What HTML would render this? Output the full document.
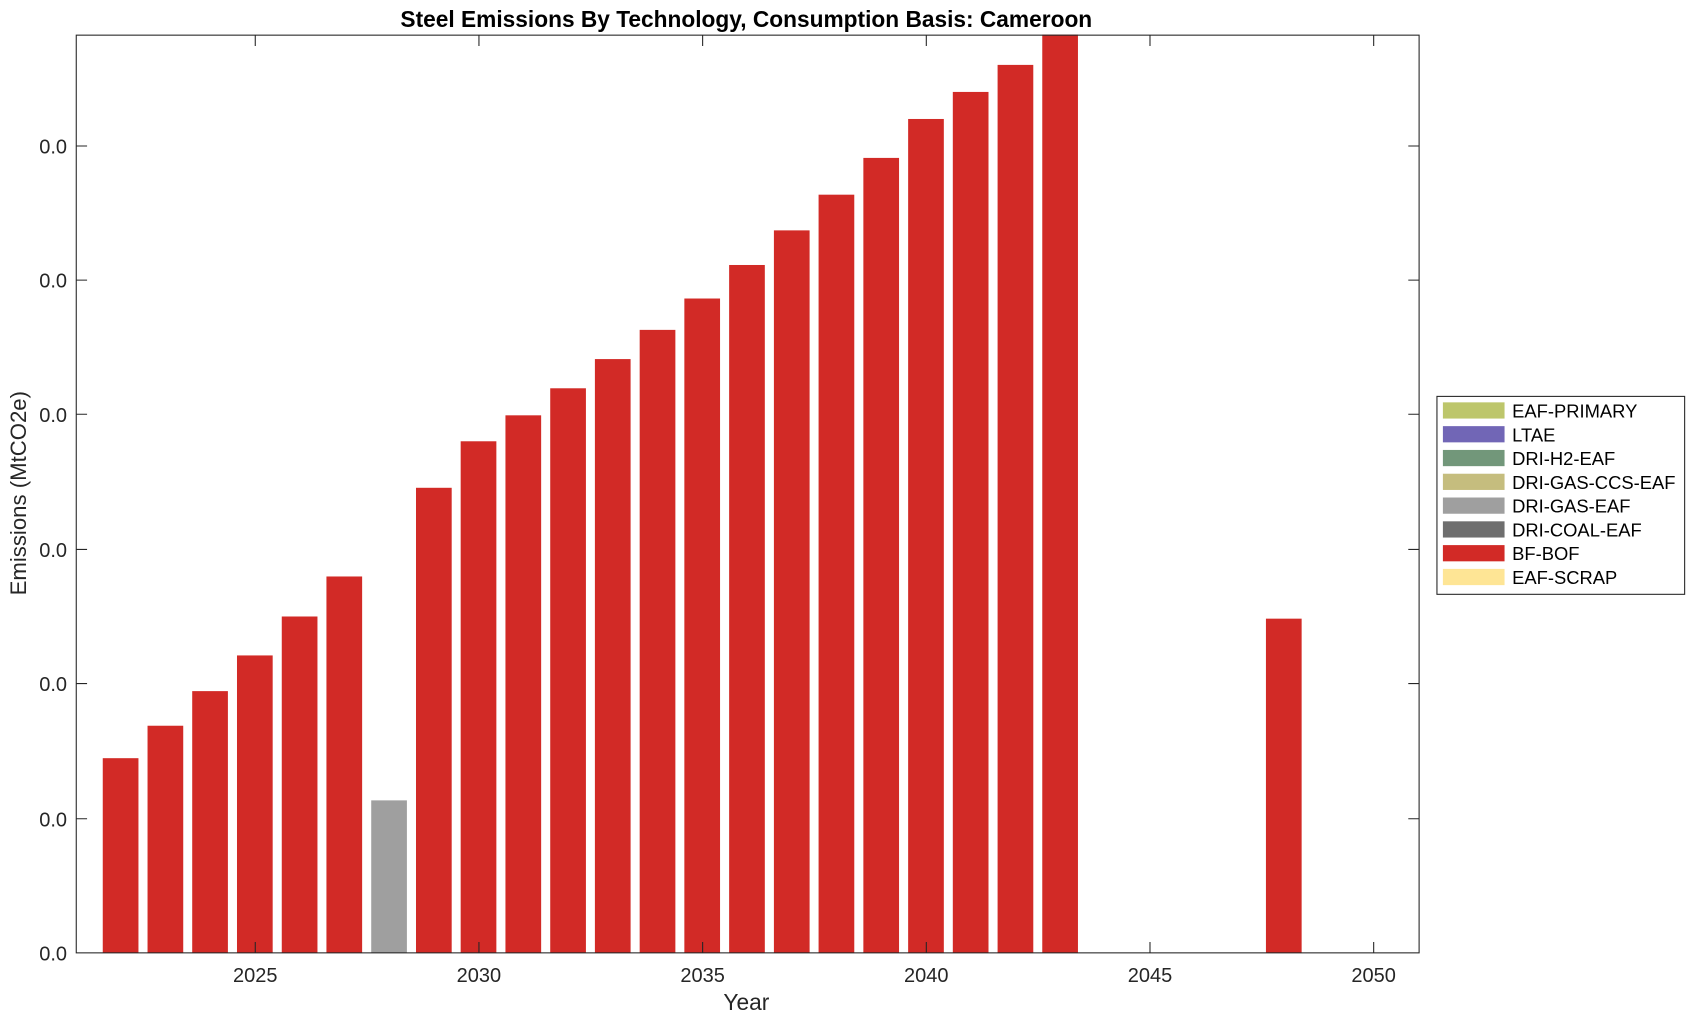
<!DOCTYPE html>
<html><head><meta charset="utf-8"><style>html,body{margin:0;padding:0;background:#fff;}svg{display:block}</style></head>
<body>
<svg width="1696" height="1021" viewBox="0 0 1568 944" preserveAspectRatio="none" xmlns="http://www.w3.org/2000/svg" font-family="Liberation Sans, Arial, sans-serif">
<rect width="1568" height="944" fill="#fff"/>
<g fill="#d22a26">
<rect x="95" y="701" width="33" height="180"/>
<rect x="136.4" y="671" width="33" height="210"/>
<rect x="177.7" y="639" width="33" height="242"/>
<rect x="219.1" y="606" width="33" height="275"/>
<rect x="260.5" y="570" width="33" height="311"/>
<rect x="301.8" y="533" width="33" height="348"/>
<rect x="384.6" y="451" width="33" height="430"/>
<rect x="425.9" y="408" width="33" height="473"/>
<rect x="467.3" y="384" width="33" height="497"/>
<rect x="508.7" y="359" width="33" height="522"/>
<rect x="550" y="332" width="33" height="549"/>
<rect x="591.4" y="305" width="33" height="576"/>
<rect x="632.7" y="276" width="33" height="605"/>
<rect x="674.1" y="245" width="33" height="636"/>
<rect x="715.5" y="213" width="33" height="668"/>
<rect x="756.8" y="180" width="33" height="701"/>
<rect x="798.2" y="146" width="33" height="735"/>
<rect x="839.6" y="110" width="33" height="771"/>
<rect x="880.9" y="85" width="33" height="796"/>
<rect x="922.3" y="60" width="33" height="821"/>
<rect x="963.6" y="32" width="33" height="849"/>
<rect x="1170.4" y="572" width="33" height="309"/>
</g>
<rect x="343.2" y="740" width="33" height="141" fill="#9f9f9f"/>
<rect x="70.5" y="32.5" width="1241.5" height="848.5" fill="none" stroke="#262626" stroke-width="1"/>
<g stroke="#262626" stroke-width="1">
<path d="M70.5 757h10M70.5 632h10M70.5 508h10M70.5 383h10M70.5 259h10M70.5 135h10"/>
<path d="M1312 757h-10M1312 632h-10M1312 508h-10M1312 383h-10M1312 259h-10M1312 135h-10"/>
<path d="M236 881v-10M442.8 881v-10M649.6 881v-10M856.4 881v-10M1063.2 881v-10M1270 881v-10"/>
<path d="M236 32.5v10M442.8 32.5v10M649.6 32.5v10M856.4 32.5v10M1063.2 32.5v10M1270 32.5v10"/>
</g>
<g font-size="18.5" fill="#262626" text-anchor="end">
<text x="62" y="888">0.0</text><text x="62" y="764">0.0</text><text x="62" y="639">0.0</text>
<text x="62" y="515">0.0</text><text x="62" y="390">0.0</text><text x="62" y="266">0.0</text><text x="62" y="142">0.0</text>
</g>
<g font-size="18.5" fill="#262626" text-anchor="middle">
<text x="236" y="908">2025</text><text x="442.8" y="908">2030</text><text x="649.6" y="908">2035</text>
<text x="856.4" y="908">2040</text><text x="1063.2" y="908">2045</text><text x="1270" y="908">2050</text>
<text x="690" y="934" font-size="21">Year</text>
<text x="690" y="25" font-size="21" font-weight="bold" fill="#000">Steel Emissions By Technology, Consumption Basis: Cameroon</text>
<text transform="translate(24,456) rotate(-90)" font-size="20.5">Emissions (MtCO2e)</text>
</g>
<rect x="1328.5" y="366.5" width="229" height="183" fill="#fff" stroke="#262626"/>
<g>
<rect x="1334" y="372" width="57" height="15" fill="#bdc66b"/>
<rect x="1334" y="394" width="57" height="15" fill="#7166b6"/>
<rect x="1334" y="416" width="57" height="15" fill="#72977a"/>
<rect x="1334" y="438" width="57" height="15" fill="#c5bd7e"/>
<rect x="1334" y="460" width="57" height="15" fill="#9f9f9f"/>
<rect x="1334" y="482" width="57" height="15" fill="#6e6e6e"/>
<rect x="1334" y="504" width="57" height="15" fill="#d22a26"/>
<rect x="1334" y="526" width="57" height="15" fill="#fee595"/>
</g>
<g font-size="17" fill="#000">
<text x="1398" y="386">EAF-PRIMARY</text>
<text x="1398" y="408">LTAE</text>
<text x="1398" y="430">DRI-H2-EAF</text>
<text x="1398" y="452">DRI-GAS-CCS-EAF</text>
<text x="1398" y="474">DRI-GAS-EAF</text>
<text x="1398" y="496">DRI-COAL-EAF</text>
<text x="1398" y="518">BF-BOF</text>
<text x="1398" y="540">EAF-SCRAP</text>
</g>
</svg>
</body></html>
